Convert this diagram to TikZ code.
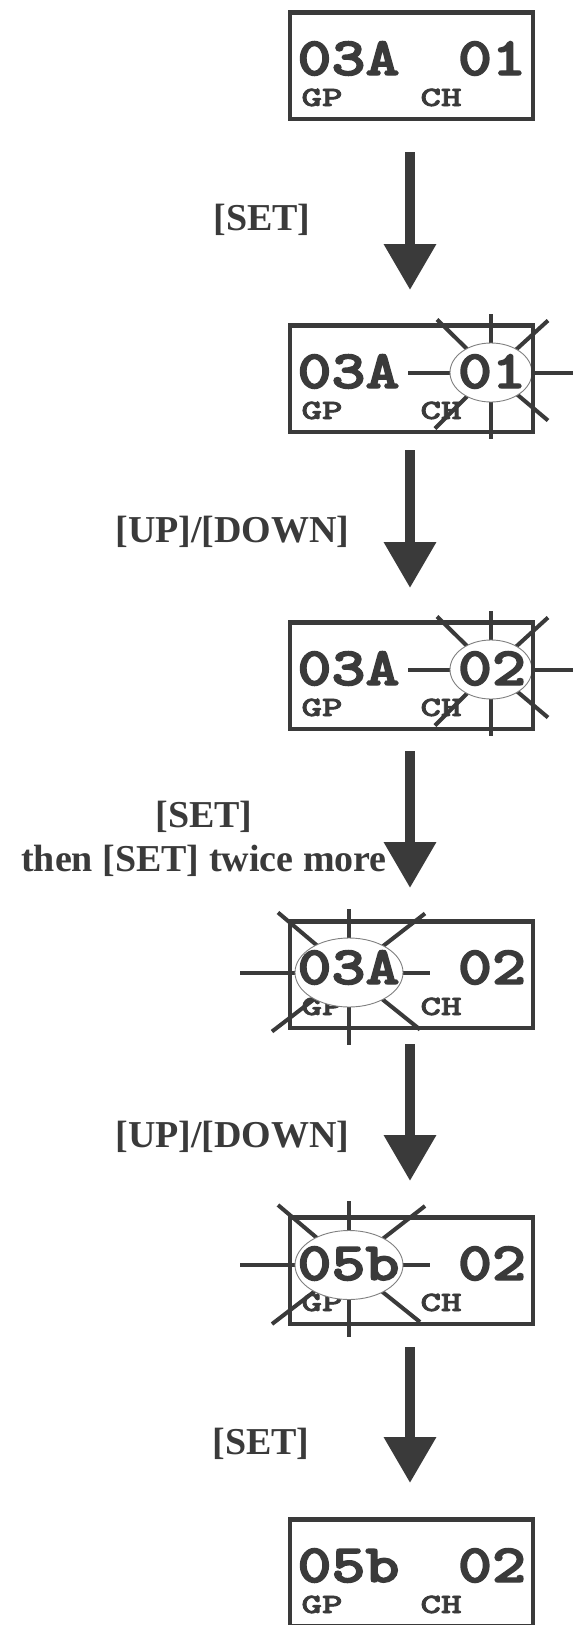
\documentclass[tikz,border=0pt]{standalone}
\usepackage{fontspec}
\usepackage{graphicx}
\setmainfont{Liberation Serif}
\newfontfamily\lcdfont{lmmonolt10-bold.otf}[FakeBold=2.5]
\newfontfamily\lcdfontsm{lmmonolt10-bold.otf}[FakeBold=2]
\usetikzlibrary{arrows.meta,shapes.geometric}
\definecolor{ink}{HTML}{3A3A3A}
\definecolor{ellline}{HTML}{808080}
\newcommand{\lcdbig}[1]{{\lcdfont\fontsize{54}{54}\selectfont\scalebox{1.2}[1]{#1}}}
\newcommand{\lcdsmall}[1]{{\lcdfontsm\fontsize{28}{28}\selectfont\scalebox{1.4}[1]{#1}}}
\tikzset{
  panel/.style={draw=ink, line width=4.5, minimum width=243, minimum height=106.5, inner sep=0, rectangle},
  bigtxt/.style={text=ink, inner sep=0, anchor=base},
  smalltxt/.style={text=ink, inner sep=0, anchor=base},
  ray/.style={draw=ink, line width=4},
  ell/.style={ellipse, draw=ellline, line width=0.9, fill=white, inner sep=0},
  arr/.style={draw=ink, line width=10, -{Triangle[width=50pt,length=46pt]}},
  lbl/.style={text=ink, font=\bfseries\fontsize{38}{44}\selectfont, inner sep=0, align=center}
}
\begin{document}
\begin{tikzpicture}[x=1pt,y=-1pt]
\useasboundingbox[fill=white] (0,0) rectangle (581,1625);
% small captions
\foreach \t [count=\i] in {10,323,620,919,1215,1517} {
  \node[smalltxt] (gp\i) at (322,\t+96) {\lcdsmall{GP}};
  \node[smalltxt] (ch\i) at (441,\t+96) {\lcdsmall{CH}};
}
% blinking marks
\coordinate (s2) at (491,372.5);
\coordinate (s3) at (491,669.5);
\coordinate (s4) at (349,972.5);
\coordinate (s5) at (349,1265);
\foreach \c in {s2,s3}
  \foreach \dx/\dy in {0/-59,0/66,82/0,-83/0,-54/-53,57/-52,57/48,-56/56}
    \draw[ray] (\c) -- ++(\dx,\dy);
\foreach \c in {s4,s5}
  \foreach \dx/\dy in {0/-64,0/72,81/0,-109/0,-71/-60,76/-59,71/57,-77/59}
    \draw[ray] (\c) -- ++(\dx,\dy);
\node[ell, minimum width=82, minimum height=59] (e2) at (s2) {};
\node[ell, minimum width=82, minimum height=59] (e3) at (s3) {};
\node[ell, minimum width=108, minimum height=69] (e4) at (s4) {};
\node[ell, minimum width=108, minimum height=69] (e5) at (s5) {};
% panels
\foreach \t [count=\i] in {10,323,620,919,1215,1517}
  \node[panel] (p\i) at (411.25,\t+55.5) {};
% big texts
\node[bigtxt] (l1) at (348.5,75) {\lcdbig{03A}};
\node[bigtxt] (r1) at (492,75) {\lcdbig{01}};
\node[bigtxt] (l2) at (348.5,388) {\lcdbig{03A}};
\node[bigtxt] (r2) at (492,388) {\lcdbig{01}};
\node[bigtxt] (l3) at (348.5,685) {\lcdbig{03A}};
\node[bigtxt] (r3) at (492,685) {\lcdbig{02}};
\node[bigtxt] (l4) at (348.5,984) {\lcdbig{03A}};
\node[bigtxt] (r4) at (492,984) {\lcdbig{02}};
\node[bigtxt] (l5) at (348.5,1280) {\lcdbig{05b}};
\node[bigtxt] (r5) at (492,1280) {\lcdbig{02}};
\node[bigtxt] (l6) at (348.5,1582) {\lcdbig{05b}};
\node[bigtxt] (r6) at (492,1582) {\lcdbig{02}};
% arrows
\coordinate (a1s) at (410,152);  \coordinate (a1e) at (410,290);
\coordinate (a2s) at (410,450);  \coordinate (a2e) at (410,588);
\coordinate (a3s) at (410,751);  \coordinate (a3e) at (410,888);
\coordinate (a4s) at (410,1044); \coordinate (a4e) at (410,1181);
\coordinate (a5s) at (410,1347); \coordinate (a5e) at (410,1483);
\foreach \i in {1,...,5} \draw[arr] (a\i s) -- (a\i e);
% labels
\node[lbl] (k1) at (262,220) {[SET]};
\node[lbl] (k2) at (232.5,532) {[UP]/[DOWN]};
\node[lbl] (k3) at (204,839) {[SET]\\then [SET] twice more};
\node[lbl] (k4) at (232.5,1137) {[UP]/[DOWN]};
\node[lbl] (k5) at (261,1444) {[SET]};
\end{tikzpicture}
\end{document}
